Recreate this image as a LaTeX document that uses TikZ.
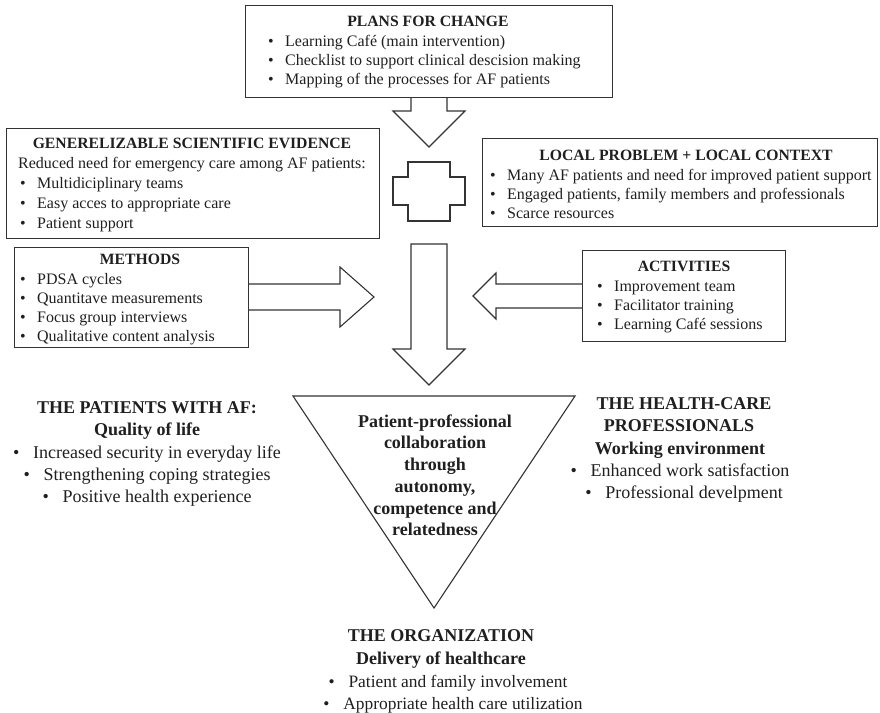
\documentclass[tikz,border=0pt]{standalone}
\usepackage{fontspec}
\setmainfont{Liberation Serif}
\newcommand{\bul}{\makebox[17pt][l]{•}}
\newcommand{\bulw}{\makebox[20pt][l]{•}}
\begin{document}
\begin{tikzpicture}[x=1pt,y=-1pt,
  box/.style={draw=black!80, line width=1.1pt, inner sep=0pt, anchor=north west},
  blockarrow/.style={draw=black!80, line width=1.1pt, line join=miter},
  txt/.style={inner sep=0pt, text=black!88, font=\fontsize{16}{19}\selectfont},
  ttl/.style={inner sep=0pt, text=black!88, font=\fontsize{15.7}{19}\selectfont\bfseries},
  trit/.style={inner sep=0pt, text=black!88, font=\fontsize{18}{21}\selectfont\bfseries},
  bigt/.style={inner sep=0pt, text=black!88, font=\fontsize{18}{21}\selectfont},
  midt/.style={inner sep=0pt, text=black!88, font=\fontsize{17.4}{21}\selectfont},
  bigb/.style={inner sep=0pt, text=black!88, font=\fontsize{18}{21}\selectfont\bfseries}]
\useasboundingbox (0,0) rectangle (880,712);

% boxes
\node[box, minimum width=367pt, minimum height=92pt] (plans) at (245,5) {};
\node[box, minimum width=373pt, minimum height=110pt] (evid) at (6,128) {};
\node[box, minimum width=395pt, minimum height=88pt] (local) at (482,138) {};
\node[box, minimum width=234pt, minimum height=100pt] (meth) at (14,247) {};
\node[box, minimum width=203pt, minimum height=91pt] (act) at (582,250) {};

% block arrows
\draw[blockarrow] (411,97) -- (411,111) -- (393,111) -- (429,147) -- (465,111) -- (447,111) -- (447,97);
\draw[blockarrow] (408,162) -- (450,162) -- (450,177) -- (465,177) -- (465,205) -- (450,205) -- (450,221) -- (408,221) -- (408,205) -- (393,205) -- (393,177) -- (408,177) -- cycle;
\draw[blockarrow] (248,284) -- (340,284) -- (340,267) -- (374,297) -- (340,327) -- (340,310) -- (248,310);
\draw[blockarrow] (582,284) -- (496,284) -- (496,273) -- (473,296) -- (496,319) -- (496,308) -- (582,308);
\draw[blockarrow] (411,244) -- (411,349) -- (393,349) -- (429,385) -- (465,349) -- (447,349) -- (447,244) -- cycle;
\draw[blockarrow] (293,396) -- (575,396) -- (434,608) -- cycle;

% plans
\node[ttl, anchor=base] (p0) at (428,26) {PLANS FOR CHANGE};
\node[txt, anchor=base west] (p1) at (268,46) {\bul Learning Café (main intervention)};
\node[txt, anchor=base west] (p2) at (268,65) {\bul Checklist to support clinical descision making};
\node[txt, anchor=base west] (p3) at (268,84) {\bul Mapping of the processes for AF patients};

% evidence
\node[ttl, anchor=base] (e0) at (192,148) {GENERELIZABLE SCIENTIFIC EVIDENCE};
\node[txt, anchor=base] (e1) at (192,168) {Reduced need for emergency care among AF patients:};
\node[txt, anchor=base west] (e2) at (20,188) {\bul Multidiciplinary teams};
\node[txt, anchor=base west] (e3) at (20,208) {\bul Easy acces to appropriate care};
\node[txt, anchor=base west] (e4) at (20,228) {\bul Patient support};

% local
\node[ttl, anchor=base] (l0) at (686,160) {LOCAL PROBLEM + LOCAL CONTEXT};
\node[txt, anchor=base west] (l1) at (490,180) {\bul Many AF patients and need for improved patient support};
\node[txt, anchor=base west] (l2) at (490,199) {\bul Engaged patients, family members and professionals};
\node[txt, anchor=base west] (l3) at (490,218) {\bul Scarce resources};

% methods
\node[ttl, anchor=base] (m0) at (140,264) {METHODS};
\node[txt, anchor=base west] (m1) at (20,284) {\bul PDSA cycles};
\node[txt, anchor=base west] (m2) at (20,303) {\bul Quantitave measurements};
\node[txt, anchor=base west] (m3) at (20,322) {\bul Focus group interviews};
\node[txt, anchor=base west] (m4) at (20,341) {\bul Qualitative content analysis};

% activities
\node[ttl, anchor=base] (a0) at (684,271) {ACTIVITIES};
\node[txt, anchor=base west] (a1) at (597,291) {\bul Improvement team};
\node[txt, anchor=base west] (a2) at (597,310) {\bul Facilitator training};
\node[txt, anchor=base west] (a3) at (597,329) {\bul Learning Café sessions};

% triangle text
\node[trit, anchor=base] (c1) at (435,427) {Patient-professional};
\node[trit, anchor=base] (c2) at (435,448) {collaboration};
\node[trit, anchor=base] (c3) at (435,470) {through};
\node[trit, anchor=base] (c4) at (435,492) {autonomy,};
\node[trit, anchor=base] (c5) at (435,514) {competence and};
\node[trit, anchor=base] (c6) at (435,535) {relatedness};

% patients
\node[bigb, anchor=base] (q0) at (147,413) {THE PATIENTS WITH AF:};
\node[bigb, anchor=base] (q1) at (147,435) {Quality of life};
\node[bigt, anchor=base] (q2) at (147,458) {\bulw Increased security in everyday life};
\node[bigt, anchor=base] (q3) at (147,480) {\bulw Strengthening coping strategies};
\node[bigt, anchor=base] (q4) at (147,502) {\bulw Positive health experience};

% professionals
\node[bigb, anchor=base] (h0) at (684,409) {THE HEALTH-CARE};
\node[bigb, anchor=base] (h1) at (679,431) {PROFESSIONALS};
\node[bigb, anchor=base] (h2) at (680,454) {Working environment};
\node[bigt, anchor=base] (h3) at (680,476) {\bulw Enhanced work satisfaction};
\node[bigt, anchor=base] (h4) at (684,498) {\bulw Professional develpment};

% organization
\node[bigb, anchor=base] (o0) at (441,641) {THE ORGANIZATION};
\node[bigb, anchor=base] (o1) at (441,664) {Delivery of healthcare};
\node[midt, anchor=base] (o2) at (448,687) {\bulw Patient and family involvement};
\node[midt, anchor=base] (o3) at (453,709) {\bulw Appropriate health care utilization};
\end{tikzpicture}
\end{document}
